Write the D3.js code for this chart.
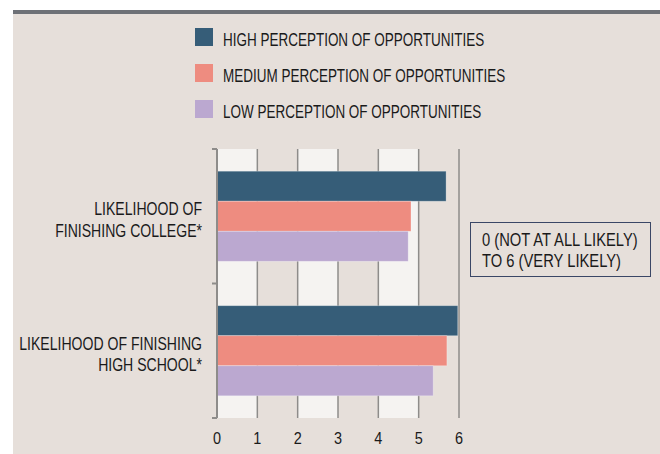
<!DOCTYPE html>
<html>
<head>
<meta charset="utf-8">
<script src="https://cdn.jsdelivr.net/npm/d3@7"></script>
<style>
  body { margin: 0; background: #fff; }
  svg { display: block; }
  text { font-family: "Liberation Sans", Arial, sans-serif; fill: #1a1a1a; }
</style>
</head>
<body>
<svg id="chart" width="660" height="454"></svg>
<script>
// 項目とシリーズ
const categories = ["LIKELIHOOD OF FINISHING COLLEGE*", "LIKELIHOOD OF FINISHING HIGH SCHOOL*"];
const categoryLines = [["LIKELIHOOD OF", "FINISHING COLLEGE*"], ["LIKELIHOOD OF FINISHING", "HIGH SCHOOL*"]];
const seriesNames = ["HIGH PERCEPTION OF OPPORTUNITIES", "MEDIUM PERCEPTION OF OPPORTUNITIES", "LOW PERCEPTION OF OPPORTUNITIES"];
const highValues = [5.68, 5.97];
const mediumValues = [4.81, 5.70];
const lowValues = [4.74, 5.36];
const xTicks = [0, 1, 2, 3, 4, 5, 6];
const noteLines = ["0 (NOT AT ALL LIKELY)", "TO 6 (VERY LIKELY)"];

const colors = ["#365d78", "#ee8c80", "#bba8d0"];
const seriesValues = [highValues, mediumValues, lowValues];

const svg = d3.select("#chart");

// 細身フォントの代わりに横方向を縮める
function addText(parent, tx, ty, str, anchor, size, sx) {
  return parent.append("text")
    .attr("transform", `translate(${tx},${ty}) scale(${sx},1)`)
    .attr("text-anchor", anchor || "start")
    .style("font-size", (size || 18) + "px")
    .text(str);
}

// 背景
svg.append("rect").attr("x", 13).attr("y", 10).attr("width", 647).attr("height", 444).attr("fill", "#e6dfda");
svg.append("rect").attr("x", 13).attr("y", 10).attr("width", 647).attr("height", 4).attr("fill", "#6e7177");

const x = d3.scaleLinear().domain([0, 6]).range([217, 459]);
const y = d3.scaleBand().domain(categories).range([149, 418]).paddingInner(0.33).paddingOuter(0.165);
const ySub = d3.scaleBand().domain(seriesNames).range([0, y.bandwidth()]);

// 交互の列
svg.append("g").selectAll("rect")
  .data(xTicks.slice(0, -1).filter(d => d % 2 === 0))
  .join("rect")
  .attr("x", d => x(d))
  .attr("y", 149)
  .attr("width", d => x(d + 1) - x(d))
  .attr("height", 418 - 149)
  .attr("fill", "#f5f3f1");

// グリッド線
svg.append("g").selectAll("line")
  .data(xTicks.slice(1))
  .join("line")
  .attr("x1", d => x(d)).attr("x2", d => x(d))
  .attr("y1", 149).attr("y2", 418)
  .attr("stroke", "#8e8c8a").attr("stroke-width", 1.5);

// 棒
const groups = svg.append("g").selectAll("g")
  .data(categories)
  .join("g")
  .attr("transform", d => `translate(0,${y(d)})`);

groups.selectAll("rect")
  .data((d, i) => seriesNames.map((s, j) => ({ s, v: seriesValues[j][i], c: colors[j] })))
  .join("rect")
  .attr("x", x(0))
  .attr("y", d => ySub(d.s))
  .attr("width", d => x(d.v) - x(0))
  .attr("height", ySub.bandwidth())
  .attr("fill", d => d.c)
  .attr("stroke", "rgba(255,255,255,0.35)")
  .attr("stroke-width", 0.8);

// 左軸と目盛り（カテゴリの境界）
svg.append("line").attr("x1", x(0)).attr("x2", x(0)).attr("y1", 149).attr("y2", 418)
  .attr("stroke", "#8e8c8a").attr("stroke-width", 2);
const yTickPos = [149, y(categories[1]) - y.paddingInner() * y.step() / 2, 418];
svg.append("g").selectAll("line")
  .data(yTickPos)
  .join("line")
  .attr("x1", x(0) - 5).attr("x2", x(0))
  .attr("y1", d => d).attr("y2", d => d)
  .attr("stroke", "#8e8c8a").attr("stroke-width", 2);

// X軸ラベル
const xLab = svg.append("g");
xTicks.forEach(d => addText(xLab, x(d), 444, d, "middle", 17, 0.85));

// 項目ラベル
const catLab = svg.append("g");
categories.forEach((c, i) => {
  const cy = y(c) + y.bandwidth() / 2;
  categoryLines[i].forEach((line, k) => addText(catLab, 202, cy - 1 + k * 21.5, line, "end", 18.5, 0.76));
});

// 凡例
const legend = svg.append("g").selectAll("g")
  .data(seriesNames)
  .join("g")
  .attr("transform", (d, i) => `translate(195,${28 + i * 36})`);
legend.append("rect").attr("width", 18).attr("height", 18).attr("fill", (d, i) => colors[i]);
legend.each(function(d) { addText(d3.select(this), 28, 17.5, d, "start", 18, 0.75); });

// 注記ボックス
svg.append("rect").attr("x", 470.5).attr("y", 222.5).attr("width", 180).attr("height", 54)
  .attr("fill", "none").attr("stroke", "#3a4766").attr("stroke-width", 1);
const noteG = svg.append("g");
noteLines.forEach((t, i) => addText(noteG, 482, 245.5 + i * 21.5, t, "start", 18, 0.82));
</script>
</body>
</html>
